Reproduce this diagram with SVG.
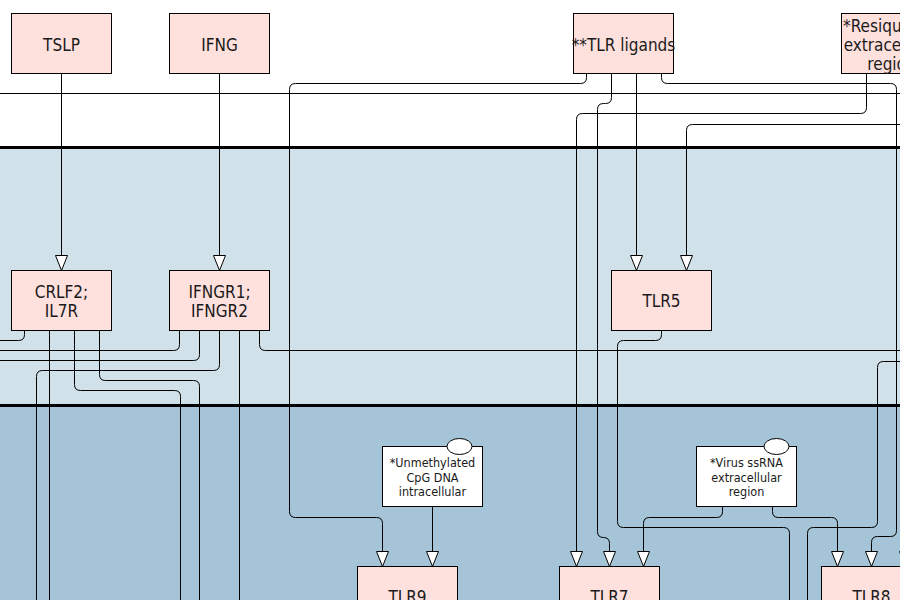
<svg xmlns="http://www.w3.org/2000/svg" width="900" height="600" viewBox="0 0 900 600">
<style>
.node rect{fill:#fee0dd;stroke:#000;stroke-width:1}
.lbl rect{fill:#fff;stroke:#000;stroke-width:1}
.lbl ellipse{fill:#fff;stroke:#000;stroke-width:1}
text{font-family:"DejaVu Sans Condensed","DejaVu Sans",sans-serif;font-stretch:condensed;fill:#1a1a1a;text-anchor:middle}
.node text{font-size:17px}
.lbl text{font-size:12.5px}
.conn path{fill:none;stroke:#000;stroke-width:1}
.arr{marker-end:url(#arr)}
</style>
<defs>
<marker id="arr" markerWidth="16" markerHeight="13" refX="15" refY="6" orient="auto" markerUnits="userSpaceOnUse" overflow="visible">
<path d="M0,0 L15,6 L0,12 Z" fill="#fff" stroke="#000" stroke-width="1"/>
</marker>
</defs>
<g id="background">
<rect x="0" y="0" width="900" height="147" fill="#fff"/>
<rect x="0" y="147" width="900" height="258" fill="#d1e1ea"/>
<rect x="0" y="405" width="900" height="195" fill="#a5c4d8"/>
<line x1="0" y1="147.5" x2="900" y2="147.5" stroke="#000" stroke-width="3"/>
<line x1="0" y1="405.5" x2="900" y2="405.5" stroke="#000" stroke-width="3"/>
</g>
<g id="connectors" class="conn" transform="translate(0.5,0.5)">
<path d="M-10,93 H910"/>
<path class="arr" d="M61,73 V270"/>
<path class="arr" d="M219,73 V270"/>
<path class="arr" d="M586,73 V77 Q586,83 580,83 H295 Q289,83 289,89 V511 Q289,517 295,517 H376 Q382,517 382,523 V566"/>
<path class="arr" d="M611,73 V97 Q611,103 605,103 H603 Q597,103 597,109 V531 Q597,537 603,537 Q609,537 609,543 V566"/>
<path class="arr" d="M636,73 V270"/>
<path class="arr" d="M661,73 V77 Q661,83 667,83 H890 Q896,83 896,89 V530 Q896,536 890,536 H877 Q871,536 871,542 V566"/>
<path class="arr" d="M866,73 V107 Q866,113 860,113 H582 Q576,113 576,119 V566"/>
<path class="arr" d="M910,124 H692 Q686,124 686,130 V270"/>
<path d="M24,330 V334 Q24,340 18,340 H-10"/>
<path d="M49,330 V610"/>
<path d="M74,330 V384 Q74,390 80,390 H174 Q180,390 180,396 V610"/>
<path d="M99,330 V374 Q99,380 105,380 H193 Q199,380 199,386 V610"/>
<path d="M179,330 V344 Q179,350 173,350 H-10"/>
<path d="M199,330 V354 Q199,360 193,360 H-10"/>
<path d="M219,330 V364 Q219,370 213,370 H42 Q36,370 36,376 V610"/>
<path d="M239,330 V610"/>
<path d="M259,330 V344 Q259,350 265,350 H910"/>
<path d="M661,330 V334 Q661,340 655,340 H623 Q617,340 617,346 V521 Q617,527 623,527 H783 Q789,527 789,533 V610"/>
<path d="M910,361 H883 Q877,361 877,367 V521 Q877,527 871,527 H813 Q807,527 807,533 V610"/>
<path class="arr" d="M722,506 V511 Q722,517 716,517 H649 Q643,517 643,523 V566"/>
<path class="arr" d="M772,506 V511 Q772,517 778,517 H831 Q837,517 837,523 V566"/>
<path class="arr" d="M432,506 V566"/>
<path class="arr" d="M905,548 V566"/>
</g>
<g id="nodes" transform="translate(0.5,0.5)">
<g id="TSLP" class="node"><rect x="11" y="13" width="100" height="60"/><text x="61" y="50">TSLP</text></g>
<g id="IFNG" class="node"><rect x="169" y="13" width="100" height="60"/><text x="219" y="50">IFNG</text></g>
<g id="TLR_ligands" class="node"><rect x="573" y="13" width="100" height="60"/><text x="623" y="50">**TLR ligands</text></g>
<g id="Resiquimod" class="node"><rect x="841" y="13" width="100" height="60"/><text x="891" y="31">*Resiquimod</text><text x="891" y="50">extracellular</text><text x="891" y="69">region</text></g>
<g id="CRLF2_IL7R" class="node"><rect x="11" y="270" width="100" height="60"/><text x="61" y="297.5">CRLF2;</text><text x="61" y="316.5">IL7R</text></g>
<g id="IFNGR" class="node"><rect x="169" y="270" width="100" height="60"/><text x="219" y="297.5">IFNGR1;</text><text x="219" y="316.5">IFNGR2</text></g>
<g id="TLR5" class="node"><rect x="611" y="270" width="100" height="60"/><text x="661" y="306.5">TLR5</text></g>
<g id="CpG" class="lbl"><rect x="382" y="446" width="100" height="60"/><ellipse cx="459" cy="446" rx="12.5" ry="8"/><text x="432" y="466.5">*Unmethylated</text><text x="432" y="481">CpG DNA</text><text x="432" y="495.5">intracellular</text></g>
<g id="Virus" class="lbl"><rect x="696" y="446" width="100" height="60"/><ellipse cx="776" cy="446" rx="12.5" ry="8"/><text x="746" y="466.5">*Virus ssRNA</text><text x="746" y="481">extracellular</text><text x="746" y="495.5">region</text></g>
<g id="TLR9" class="node"><rect x="357" y="566" width="100" height="60"/><text x="407" y="602.5">TLR9</text></g>
<g id="TLR7" class="node"><rect x="559" y="566" width="100" height="60"/><text x="609" y="602.5">TLR7</text></g>
<g id="TLR8" class="node"><rect x="821" y="566" width="100" height="60"/><text x="871" y="602.5">TLR8</text></g>
</g>
</svg>
